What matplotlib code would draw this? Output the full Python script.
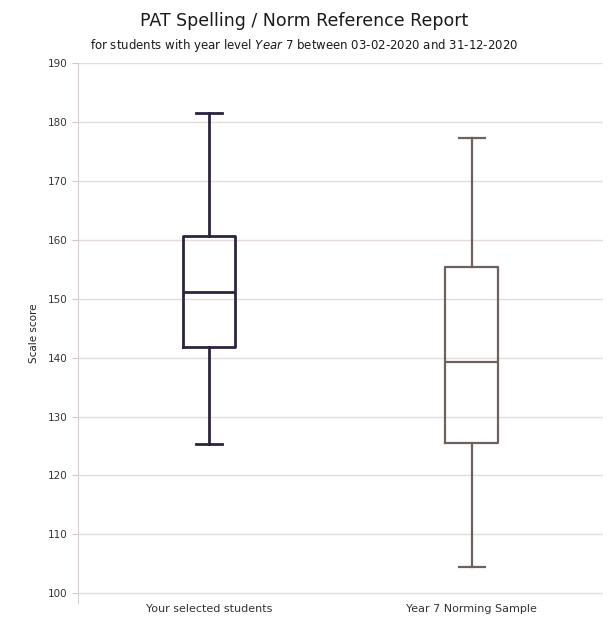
import matplotlib
matplotlib.use("Agg")
import matplotlib.pyplot as plt

categories = ["Your selected students", "Year 7 Norming Sample"]
whislo = [125.3, 104.4]
q1 = [141.8, 125.5]
med = [151.1, 139.3]
q3 = [160.6, 155.4]
whishi = [181.6, 177.3]
colors = ["#2d2340", "#6e605c"]
yticks = list(range(100, 191, 10))

fig = plt.figure(figsize=(6.09, 6.37), dpi=100)
ax = fig.add_axes([0.128, 0.053, 0.862, 0.848])

stats = []
for i, c in enumerate(categories):
    stats.append(dict(label=c, whislo=whislo[i], q1=q1[i], med=med[i], q3=q3[i], whishi=whishi[i], fliers=[]))

for i, s in enumerate(stats):
    lw = 2.0 if i == 0 else 1.6
    ax.bxp([s], positions=[i], widths=0.2, showfliers=False, capwidths=0.1,
           boxprops=dict(color=colors[i], linewidth=lw),
           whiskerprops=dict(color=colors[i], linewidth=lw),
           capprops=dict(color=colors[i], linewidth=lw),
           medianprops=dict(color=colors[i], linewidth=lw))

ax.set_xlim(-0.5, 1.5)
ax.set_ylim(98.3, 190)
ax.set_yticks(yticks)
ax.set_xticks([0, 1])
ax.set_xticklabels(categories)
ax.yaxis.grid(True, color="#e3dada", linewidth=1.0)
ax.set_axisbelow(True)
for sp in ["top", "right", "bottom"]:
    ax.spines[sp].set_visible(False)
ax.spines["left"].set_color("#d8d0d0")
ax.tick_params(axis="y", colors="#d0c8c8", labelcolor="#333333", labelsize=7.5, length=4)
ax.tick_params(axis="x", length=0, labelcolor="#333333", labelsize=8, pad=0.5)
ax.set_ylabel("Scale score", fontsize=7.5, color="#222222", labelpad=6)

fig.text(0.5, 0.967, "PAT Spelling / Norm Reference Report", ha="center", va="center", fontsize=12.5, color="#1a1a1a")
fig.text(0.5, 0.929, "for students with year level $\\it{Year\\ 7}$ between 03-02-2020 and 31-12-2020",
         ha="center", va="center", fontsize=8.5, color="#1a1a1a")

fig.savefig("out.png", dpi=100)
